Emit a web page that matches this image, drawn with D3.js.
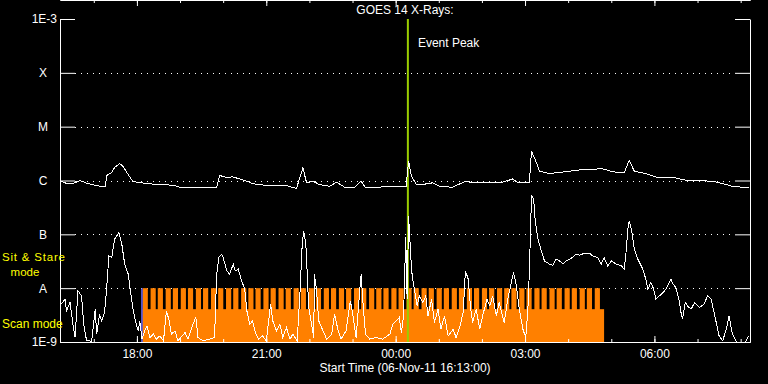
<!DOCTYPE html>
<html>
<head>
<meta charset="utf-8">
<title>GOES 14 X-Rays</title>
<script src="https://cdn.jsdelivr.net/npm/d3@7"></script>
<style>
  body { margin: 0; background: #000; }
  svg { display: block; background: #000; }
  text { font-family: "Liberation Sans", Arial, sans-serif; font-size: 12px; fill: #fff; }
</style>
</head>
<body>
<script>
// start of plot: 06-Nov-11 16:13:00 UT, 16 hours shown
var startTime = new Date(Date.UTC(2011, 10, 6, 16, 13));
var endTime = new Date(Date.UTC(2011, 10, 7, 8, 13));
var eventPeakMin = 484;

// 1-8 A channel: minutes after start, flux (W/m^2)
var longMin = [1, 7, 17, 28, 38, 56, 63, 65, 72, 76, 83, 88, 93, 101, 111, 135, 157, 167, 218, 222,
  232, 240, 250, 260, 268, 288, 314, 329, 338, 343, 352, 361, 375, 385, 396, 410, 419, 425, 441, 452,
  482, 483, 485, 489, 496, 514, 518, 528, 546, 560, 565, 574, 616, 630, 637, 653, 656, 663, 667, 681,
  699, 727, 755, 769, 785, 792, 799, 816, 830, 852, 871, 908, 927, 935, 959];
var longFlux = [0.97e-6, 0.90e-6, 0.87e-6, 1.0e-6, 0.88e-6, 0.78e-6, 0.78e-6, 1.24e-6, 1.41e-6, 1.74e-6,
  2.07e-6, 1.82e-6, 1.41e-6, 0.97e-6, 0.91e-6, 0.84e-6, 0.82e-6, 0.75e-6, 0.75e-6, 1.24e-6,
  1.14e-6, 1.17e-6, 1.07e-6, 0.97e-6, 0.87e-6, 0.81e-6, 0.81e-6, 0.71e-6, 1.72e-6, 0.91e-6,
  0.97e-6, 0.84e-6, 0.78e-6, 0.93e-6, 0.75e-6, 0.75e-6, 0.97e-6, 0.73e-6, 0.73e-6, 0.78e-6,
  0.78e-6, 1.29e-6, 2.28e-6, 1.20e-6, 0.84e-6, 0.87e-6, 0.91e-6, 0.78e-6, 0.75e-6, 0.91e-6,
  0.97e-6, 0.91e-6, 0.93e-6, 1.07e-6, 0.91e-6, 0.91e-6, 3.50e-6, 2.13e-6, 1.49e-6, 1.35e-6,
  1.43e-6, 1.60e-6, 1.65e-6, 1.45e-6, 1.39e-6, 2.38e-6, 1.49e-6, 1.33e-6, 1.15e-6, 1.15e-6,
  1.01e-6, 0.97e-6, 0.84e-6, 0.78e-6, 0.73e-6];

// 0.5-4 A channel
var shortMin = [2, 7, 9, 14, 18, 21, 25, 30, 33, 37, 44, 49, 51, 55, 58, 62, 65, 68, 72, 76,
  82, 86, 90, 95, 98, 102, 106, 109, 111, 114, 118, 121, 125, 130, 134, 139, 144, 148, 152, 155,
  160, 164, 174, 178, 185, 189, 192, 199, 208, 215, 218, 221, 225, 227, 232, 236, 241, 244, 248, 252,
  257, 260, 264, 268, 271, 276, 282, 287, 293, 296, 301, 306, 310, 315, 320, 324, 330, 334, 337, 339,
  342, 344, 346, 350, 353, 354, 357, 360, 366, 371, 378, 382, 387, 391, 398, 404, 408, 412, 417, 419,
  421, 425, 431, 440, 449, 459, 463, 468, 472, 475, 478, 481, 483, 485, 488, 490, 493, 497, 500, 505,
  509, 512, 517, 521, 526, 530, 535, 540, 547, 551, 556, 561, 564, 568, 571, 574, 579, 584, 588, 594,
  598, 602, 607, 611, 618, 623, 628, 631, 635, 639, 644, 648, 651, 653, 656, 659, 661, 665, 669, 674,
  681, 686, 690, 695, 700, 704, 709, 713, 718, 723, 730, 737, 741, 748, 753, 757, 762, 767, 774, 781,
  785, 788, 790, 792, 795, 799, 804, 811, 815, 818, 822, 826, 829, 834, 839, 843, 850, 853, 857, 861,
  864, 866, 870, 873, 878, 883, 890, 896, 901, 906, 909, 913, 917, 922, 927, 931, 935, 941, 954, 958];
var shortFlux = [5.05e-9, 6.25e-9, 3.79e-9, 5.42e-9, 2.14e-9, 1.23e-9, 8.91e-9, 7.19e-9, 2.14e-9, 1.05e-9,
  1.04e-9, 4.07e-9, 1.40e-9, 3.29e-9, 2.47e-9, 3.54e-9, 1.03e-8, 3.98e-8, 3.72e-8, 8.13e-8,
  1.08e-7, 6.57e-8, 2.79e-8, 1.82e-8, 8.91e-9, 3.79e-9, 2.14e-9, 1.61e-9, 2.47e-9, 1.13e-9,
  1.61e-9, 2.0e-9, 1.21e-9, 1.40e-9, 1.13e-9, 1.30e-9, 1.05e-9, 3.79e-9, 2.47e-9, 1.40e-9,
  1.61e-9, 1.05e-9, 1.50e-9, 1.13e-9, 2.14e-9, 2.86e-9, 1.21e-9, 1.05e-9, 1.13e-9, 1.21e-9,
  1.82e-8, 3.72e-8, 4.28e-8, 3.72e-8, 2.10e-8, 1.82e-8, 2.79e-8, 2.10e-8, 2.25e-8, 1.47e-8,
  9.58e-9, 3.79e-9, 2.14e-9, 2.47e-9, 1.61e-9, 1.13e-9, 1.30e-9, 1.05e-9, 5.05e-9, 2.47e-9,
  1.61e-9, 2.14e-9, 1.21e-9, 1.86e-9, 1.13e-9, 1.40e-9, 1.05e-9, 8.91e-9, 6.57e-8, 1.16e-7,
  6.57e-8, 1.82e-8, 4.38e-9, 2.14e-9, 1.21e-9, 1.82e-8, 8.91e-9, 2.47e-9, 1.61e-9, 1.13e-9,
  1.40e-9, 3.29e-9, 1.61e-9, 1.13e-9, 1.61e-9, 5.81e-9, 2.86e-9, 1.21e-9, 8.91e-9, 1.82e-8,
  6.72e-9, 1.40e-9, 1.13e-9, 1.21e-9, 1.13e-9, 1.40e-9, 2.14e-9, 2.47e-9, 2.86e-9, 1.50e-9,
  3.06e-9, 8.75e-8, 6.25e-9, 2.20e-7, 3.98e-8, 1.69e-8, 9.58e-9, 4.69e-9, 7.19e-9, 5.42e-9,
  7.19e-9, 3.06e-9, 6.25e-9, 2.31e-9, 4.07e-9, 1.73e-9, 3.06e-9, 1.30e-9, 1.73e-9, 1.21e-9,
  1.86e-9, 3.54e-9, 2.10e-8, 1.47e-8, 4.69e-9, 2.31e-9, 4.07e-9, 1.73e-9, 3.06e-9, 6.25e-9,
  4.69e-9, 7.19e-9, 3.06e-9, 5.42e-9, 2.31e-9, 6.25e-9, 1.28e-8, 1.96e-8, 1.10e-8, 4.07e-9,
  1.73e-9, 1.21e-9, 4.07e-9, 1.96e-8, 5.19e-7, 4.50e-7, 1.91e-7, 8.13e-8, 5.31e-8, 3.21e-8,
  2.79e-8, 2.67e-8, 3.46e-8, 3.21e-8, 2.79e-8, 3.21e-8, 3.46e-8, 3.72e-8, 4.28e-8, 4.10e-8,
  4.47e-8, 4.47e-8, 3.98e-8, 3.72e-8, 2.79e-8, 3.72e-8, 2.59e-8, 3.21e-8, 2.79e-8, 2.59e-8,
  2.25e-8, 5.31e-8, 1.25e-7, 1.78e-7, 1.25e-7, 5.31e-8, 3.46e-8, 2.25e-8, 1.47e-8, 9.58e-9,
  1.28e-8, 9.58e-9, 6.25e-9, 7.19e-9, 8.32e-9, 9.58e-9, 1.47e-8, 1.19e-8, 1.03e-8, 6.25e-9,
  3.54e-9, 2.65e-9, 5.42e-9, 4.69e-9, 4.07e-9, 5.42e-9, 4.38e-9, 5.05e-9, 7.19e-9, 6.25e-9,
  4.07e-9, 2.31e-9, 1.30e-9, 1.05e-9, 1.73e-9, 3.06e-9, 1.50e-9, 1.0e-9, 1.0e-9, 1.30e-9];

// instrument mode: sit & stare intervals (start minute), scan block, first sit&stare marker
var sitStareStart = [115, 126, 136, 147, 157, 168, 178, 189, 199, 210, 220, 231, 241, 252, 262, 272,
  283, 293, 304, 314, 325, 335, 346, 356, 367, 377, 388, 398, 409, 419, 430, 440, 450, 461, 471, 482,
  492, 503, 513, 524, 534, 545, 555, 566, 576, 587, 597, 608, 618, 628, 639, 649, 660, 670, 681, 691,
  702, 712, 723, 733, 744];
var sitStareLength = 7.2;
var scanBlock = [115, 757];
var firstMark = [113, 115];

var levelValues = [1e-9, 1e-8, 1e-7, 1e-6, 1e-5, 1e-4, 1e-3];
var levelLabels = ["1E-9", "A", "B", "C", "M", "X", "1E-3"];

function at(min) { return new Date(startTime.getTime() + min * 60000); }

var width = 768, height = 384;
var margin = {left: 60, right: 18, top: 19, bottom: 42};

var svg = d3.select("body").append("svg").attr("width", width).attr("height", height);

var x = d3.scaleUtc().domain([startTime, endTime]).range([margin.left, width - margin.right]);
var y = d3.scaleLog().domain([1e-9, 1e-3]).range([height - margin.bottom, margin.top]).clamp(true);

svg.append("defs").append("clipPath").attr("id", "plot")
  .append("rect").attr("x", x.range()[0]).attr("y", y.range()[1])
  .attr("width", x.range()[1] - x.range()[0]).attr("height", y.range()[0] - y.range()[1]);

var plot = svg.append("g").attr("clip-path", "url(#plot)");

// dotted level lines
plot.selectAll("line.grid").data(levelValues.slice(1, 6)).enter().append("line")
  .attr("class", "grid")
  .attr("x1", x.range()[0] + 15).attr("x2", x.range()[1] - 15)
  .attr("y1", function(d) { return Math.round(y(d)) + 0.5; })
  .attr("y2", function(d) { return Math.round(y(d)) + 0.5; })
  .attr("stroke", "#fff").attr("stroke-dasharray", "1,5");

// mode bars
plot.append("rect")
  .attr("x", x(at(scanBlock[0]))).attr("width", x(at(scanBlock[1])) - x(at(scanBlock[0])))
  .attr("y", y(4.07e-9)).attr("height", y(1e-9) - y(4.07e-9))
  .attr("fill", "#ff8000");
plot.selectAll("rect.ss").data(sitStareStart).enter().append("rect")
  .attr("class", "ss")
  .attr("x", function(d) { return x(at(d)); })
  .attr("width", function(d) { return x(at(d + sitStareLength)) - x(at(d)); })
  .attr("y", y(1e-8)).attr("height", y(1e-9) - y(1e-8))
  .attr("fill", "#ff8000");
plot.append("rect")
  .attr("x", x(at(firstMark[0]))).attr("width", x(at(firstMark[1])) - x(at(firstMark[0])))
  .attr("y", y(1e-8)).attr("height", y(1e-9) - y(1e-8))
  .attr("fill", "#6b6bff");

// event peak
plot.append("line")
  .attr("x1", x(at(eventPeakMin))).attr("x2", x(at(eventPeakMin)))
  .attr("y1", y.range()[1]).attr("y2", y.range()[0])
  .attr("stroke", "#9acd00").attr("stroke-width", 2);

var line = d3.line()
  .x(function(d) { return x(at(d[0])); })
  .y(function(d) { return y(d[1]); });

plot.append("path").datum(d3.zip(shortMin, shortFlux))
  .attr("d", line).attr("fill", "none").attr("stroke", "#fff").attr("stroke-width", 1)
  .attr("shape-rendering", "crispEdges");
plot.append("path").datum(d3.zip(longMin, longFlux))
  .attr("d", line).attr("fill", "none").attr("stroke", "#fff").attr("stroke-width", 1)
  .attr("shape-rendering", "crispEdges");

// axes
var majorHours = d3.utcHour.every(3), minorHours = d3.utcHour.every(1);
var bottom = y.range()[0], top = y.range()[1];

svg.append("g").attr("transform", "translate(0," + bottom + ")")
  .call(d3.axisBottom(x).ticks(minorHours).tickSizeInner(-3).tickSizeOuter(0).tickFormat(""));
svg.append("g").attr("class", "xlab").attr("transform", "translate(0," + bottom + ")")
  .call(d3.axisBottom(x).ticks(majorHours).tickSizeInner(-6).tickSizeOuter(0).tickPadding(7)
    .tickFormat(d3.utcFormat("%H:%M")));
svg.append("g").attr("transform", "translate(0," + top + ")")
  .call(d3.axisTop(x).ticks(minorHours).tickSizeInner(-3).tickSizeOuter(0).tickFormat(""));
svg.append("g").attr("transform", "translate(0," + top + ")")
  .call(d3.axisTop(x).ticks(majorHours).tickSizeInner(-6).tickSizeOuter(0).tickFormat(""));

svg.append("g").attr("class", "ylab").attr("transform", "translate(" + x.range()[0] + ",0)")
  .call(d3.axisLeft(y).tickValues(levelValues).tickSizeInner(-15).tickSizeOuter(0).tickPadding(3)
    .tickFormat(function(d, i) { return levelLabels[i]; }));
svg.append("g").attr("transform", "translate(" + x.range()[1] + ",0)")
  .call(d3.axisRight(y).tickValues(levelValues).tickSizeInner(-15).tickSizeOuter(0).tickFormat(""));

svg.selectAll(".domain, .tick line").attr("stroke", "#fff");
svg.selectAll(".tick text").attr("fill", "#fff")
  .style("font-family", "Liberation Sans, Arial, sans-serif").style("font-size", "12px");
svg.selectAll(".ylab .tick text")
  .filter(function(d, i) { return levelLabels[i].length === 1; })
  .attr("text-anchor", "middle").attr("x", -17);

// frame
svg.append("rect")
  .attr("x", x.range()[0] + 0.5).attr("y", top + 0.5)
  .attr("width", x.range()[1] - x.range()[0] - 1).attr("height", bottom - top - 1)
  .attr("fill", "none").attr("stroke", "#fff");

// texts
svg.append("text").attr("x", (x.range()[0] + x.range()[1]) / 2).attr("y", 14)
  .attr("text-anchor", "middle").text("GOES 14 X-Rays:");
svg.append("text").attr("x", (x.range()[0] + x.range()[1]) / 2).attr("y", 372)
  .attr("text-anchor", "middle").text("Start Time (06-Nov-11 16:13:00)");
svg.append("text").attr("x", x(at(eventPeakMin)) + 10).attr("y", 47).text("Event Peak");

svg.append("text").attr("x", 2).attr("y", 261).style("fill", "#ffff00").style("font-size", "11.5px")
  .attr("letter-spacing", "0.8").text("Sit & Stare");
svg.append("text").attr("x", 25).attr("y", 276).attr("text-anchor", "middle").style("fill", "#ffff00")
  .style("font-size", "11.5px").text("mode");
svg.append("text").attr("x", 2).attr("y", 328).style("fill", "#ffff00").text("Scan mode");
</script>
</body>
</html>
